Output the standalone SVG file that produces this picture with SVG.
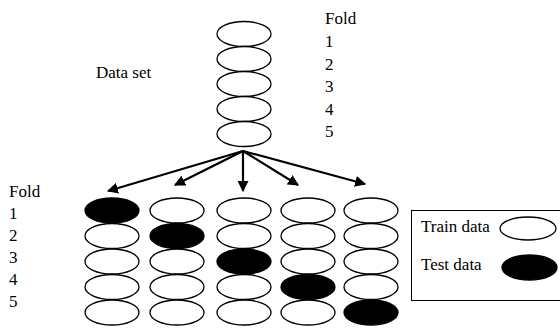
<svg xmlns="http://www.w3.org/2000/svg" width="560" height="329" viewBox="0 0 560 329">
<style>
text{font-family:"Liberation Serif","Times New Roman",serif;font-size:17px;fill:#000}
.e{fill:#fff;stroke:#000;stroke-width:1.3}
.f{fill:#000;stroke:#000;stroke-width:1.3}
.a{stroke:#000;stroke-width:2.2;fill:none;marker-end:url(#ah)}
</style>
<defs>
<marker id="ah" viewBox="0 0 10 10" refX="9" refY="5" markerWidth="5" markerHeight="5" orient="auto" markerUnits="strokeWidth">
<path d="M0,0 L10,5 L0,10 z" fill="#000"/>
</marker>
</defs>
<rect width="560" height="329" fill="#fff"/>
<g id="dataset">
<ellipse class="e" cx="244" cy="34" rx="27" ry="12.5"/>
<ellipse class="e" cx="244" cy="59" rx="27" ry="12.5"/>
<ellipse class="e" cx="244" cy="84" rx="27" ry="12.5"/>
<ellipse class="e" cx="244" cy="109" rx="27" ry="12.5"/>
<ellipse class="e" cx="244" cy="134" rx="27" ry="12.5"/>
<text x="96" y="78">Data set</text>
</g>
<g id="fold-labels-top">
<text x="325" y="24">Fold</text>
<text x="325" y="47">1</text>
<text x="325" y="69.5">2</text>
<text x="325" y="92">3</text>
<text x="325" y="114.5">4</text>
<text x="325" y="137">5</text>
</g>
<g id="fold-labels-bottom">
<text x="9" y="197">Fold</text>
<text x="9" y="219">1</text>
<text x="9" y="241">2</text>
<text x="9" y="263">3</text>
<text x="9" y="285">4</text>
<text x="9" y="307">5</text>
</g>
<g id="connectors">
<line class="a" x1="243" y1="151" x2="108" y2="191"/>
<line class="a" x1="243" y1="151" x2="175" y2="185"/>
<line class="a" x1="243" y1="151" x2="243" y2="191"/>
<line class="a" x1="243" y1="151" x2="298" y2="185"/>
<line class="a" x1="243" y1="151" x2="365" y2="184"/>
</g>
<g id="column1">
<ellipse class="f" cx="112" cy="210.5" rx="27" ry="12.5"/>
<ellipse class="e" cx="112" cy="236" rx="27" ry="12.5"/>
<ellipse class="e" cx="112" cy="261.5" rx="27" ry="12.5"/>
<ellipse class="e" cx="112" cy="287" rx="27" ry="12.5"/>
<ellipse class="e" cx="112" cy="312.5" rx="27" ry="12.5"/>
</g>
<g id="column2">
<ellipse class="e" cx="177" cy="210.5" rx="27" ry="12.5"/>
<ellipse class="f" cx="177" cy="236" rx="27" ry="12.5"/>
<ellipse class="e" cx="177" cy="261.5" rx="27" ry="12.5"/>
<ellipse class="e" cx="177" cy="287" rx="27" ry="12.5"/>
<ellipse class="e" cx="177" cy="312.5" rx="27" ry="12.5"/>
</g>
<g id="column3">
<ellipse class="e" cx="244" cy="210.5" rx="27" ry="12.5"/>
<ellipse class="e" cx="244" cy="236" rx="27" ry="12.5"/>
<ellipse class="f" cx="244" cy="261.5" rx="27" ry="12.5"/>
<ellipse class="e" cx="244" cy="287" rx="27" ry="12.5"/>
<ellipse class="e" cx="244" cy="312.5" rx="27" ry="12.5"/>
</g>
<g id="column4">
<ellipse class="e" cx="308" cy="210.5" rx="27" ry="12.5"/>
<ellipse class="e" cx="308" cy="236" rx="27" ry="12.5"/>
<ellipse class="e" cx="308" cy="261.5" rx="27" ry="12.5"/>
<ellipse class="f" cx="308" cy="287" rx="27" ry="12.5"/>
<ellipse class="e" cx="308" cy="312.5" rx="27" ry="12.5"/>
</g>
<g id="column5">
<ellipse class="e" cx="371" cy="210.5" rx="27" ry="12.5"/>
<ellipse class="e" cx="371" cy="236" rx="27" ry="12.5"/>
<ellipse class="e" cx="371" cy="261.5" rx="27" ry="12.5"/>
<ellipse class="e" cx="371" cy="287" rx="27" ry="12.5"/>
<ellipse class="f" cx="371" cy="312.5" rx="27" ry="12.5"/>
</g>
<g id="legend">
<rect x="411.5" y="210.5" width="160" height="90" fill="#fff" stroke="#000" stroke-width="1"/>
<text x="421" y="232">Train data</text>
<ellipse class="e" cx="528" cy="228.5" rx="28" ry="11.5"/>
<text x="421" y="270">Test data</text>
<ellipse class="f" cx="529.5" cy="267.5" rx="27.5" ry="12.5"/>
</g>
</svg>
